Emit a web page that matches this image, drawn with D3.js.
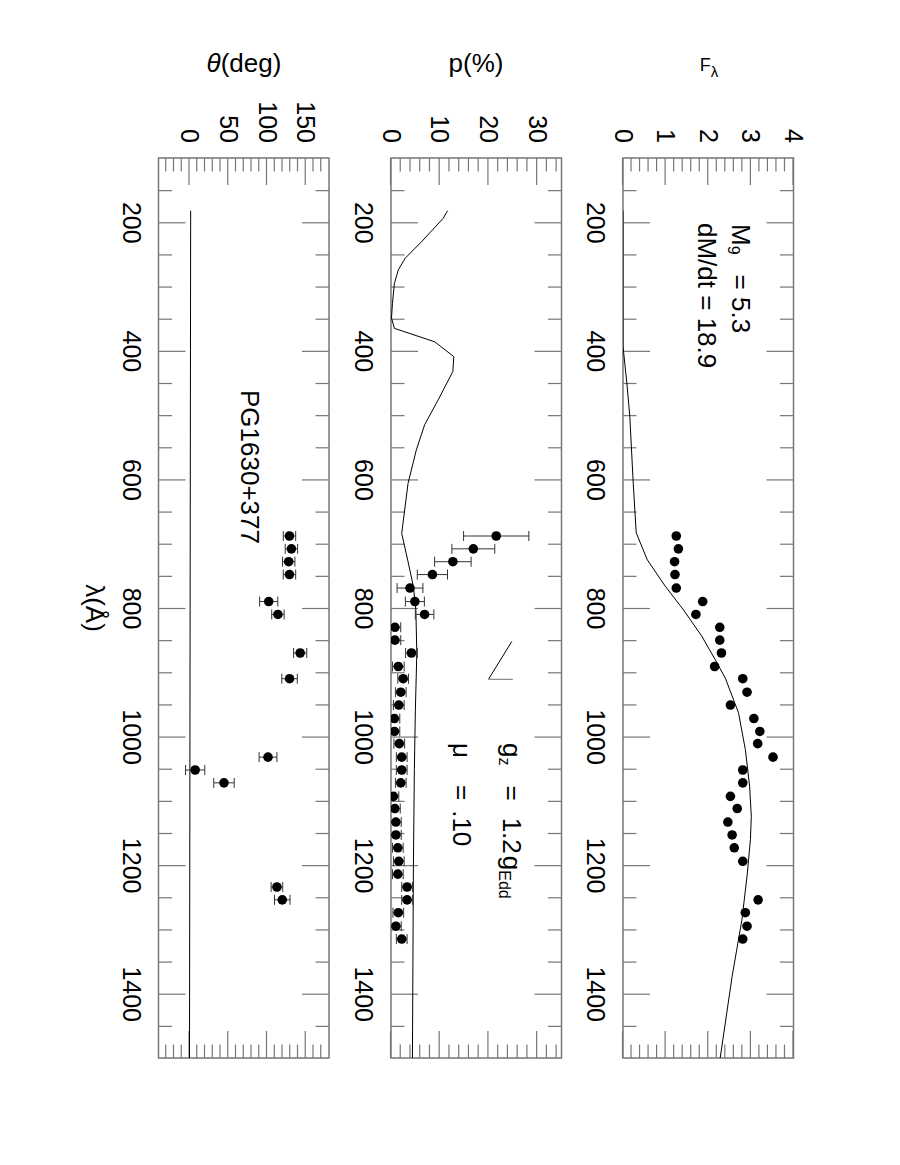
<!DOCTYPE html>
<html><head><meta charset="utf-8">
<script src="https://cdn.jsdelivr.net/npm/d3@7"></script>
<style>body{margin:0;background:#fff}</style>
</head><body>
<svg id="c" width="900" height="1165" xmlns="http://www.w3.org/2000/svg"></svg>
<script>
// ---------------- data ----------------
const lambdaDomain = [100, 1500];
const lambdaMajor = [200, 400, 600, 800, 1000, 1200, 1400];
const lambdaMinor = d3.range(150, 1500, 50).filter(v => v % 200 !== 0);

const fDomain = [0, 4];
const fMajor = [0, 1, 2, 3, 4];
const fMinor = d3.range(0.2, 4, 0.2).filter(v => Math.abs(v - Math.round(v)) > 1e-6);

const pDomain = [0, 35];
const pMajor = [0, 10, 20, 30];
const pMinor = d3.range(2, 35, 2).filter(v => v % 10 !== 0);

const tDomain = [-40, 180];
const tMajor = [0, 50, 100, 150];
const tMinor = d3.range(-30, 180, 10).filter(v => v % 50 !== 0);

// flux data points
const fLambda = [688,708,728,748,769,790,810,830,850,870,891,910,931,951,972,992,1011,1032,1052,1072,1093,1112,1133,1153,1173,1194,1254,1274,1295,1315];
const fValue  = [1.25,1.30,1.21,1.22,1.25,1.87,1.71,2.27,2.27,2.31,2.15,2.81,2.91,2.52,3.07,3.21,3.16,3.52,2.81,2.81,2.52,2.68,2.46,2.56,2.61,2.81,3.17,2.87,2.91,2.81];
// flux model
const fModelLambda = [182,393,450,502,606,683,725,766,803,844,880,909,963,1020,1077,1124,1160,1217,1285,1373,1500];
const fModelValue  = [0,0,0.09,0.16,0.24,0.31,0.57,0.99,1.42,1.85,2.16,2.40,2.71,2.87,2.97,3.01,2.99,2.91,2.79,2.56,2.28];

// polarization data points
const pLambda = [688,708,728,748,769,790,810,830,850,870,891,910,931,951,972,992,1011,1032,1052,1072,1093,1112,1133,1153,1173,1194,1214,1234,1254,1274,1295,1315];
const pValue  = [21.6,16.9,12.7,8.5,3.9,4.9,6.9,0.8,0.8,4.2,1.5,2.5,2.0,1.6,0.7,0.7,1.7,2.2,2.2,2.0,0.5,0.8,1.0,1.0,1.4,1.6,1.4,3.3,3.3,1.5,1.0,2.2];
const pError  = [6.7,4.4,3.75,3.1,2.65,1.95,1.9,1.2,1.2,1.2,1.2,1.1,1.1,1.1,1.1,1.1,1.1,1.1,1.1,1.1,1.1,1.1,1.1,1.1,1.1,1.1,1.1,1.1,1.1,1.1,1.1,1.1];
// polarization model
const pModelLambda = [182,194,230,256,274,295,326,349,365,386,409,432,476,515,554,606,684,728,767,803,870,960,1050,1200,1500];
const pModelValue  = [11.6,10.7,6.3,2.9,1.5,0.7,0.3,0.1,0.7,9.0,12.9,12.7,9.7,6.9,5.2,3.5,2.2,3.5,4.6,5.1,5.3,5.0,4.8,4.6,4.4];
// small angle mark in p panel
const markLambda = [852, 911, 911];
const markValue  = [24.8, 20.0, 25.0];

// position angle data points
const tLambda = [688,708,728,748,790,810,870,910,1032,1052,1072,1234,1254];
const tValue  = [129,131.5,128,129,102.2,114.1,142.8,129.1,101.3,7.3,44.5,112.8,119.7];
const tError  = [8,8,8,8,11.7,8,8.5,10,11.5,12.4,13.2,7.5,10];
// position angle model
const tModelLambda = [182, 1500];
const tModelValue  = [1.5, 0];

// ---------------- drawing ----------------
const FONT = "'Liberation Sans', Arial, Helvetica, sans-serif";
const GRAY = "#777";
const svg = d3.select("#c");
const defs = svg.append("defs");
// original (unrotated) frame, rotated 90deg clockwise onto the page
const g = svg.append("g").attr("transform", "translate(900,0) rotate(90)");

const x = d3.scaleLinear().domain(lambdaDomain).range([158, 1058]);
const PW = 170.5;
const MAJ = 27, MIN = 13.5;
const intFmt = d3.format("d");

function styleAxis(a) {
  a.select(".domain").remove();
  a.attr("font-size", 25).attr("font-family", FONT);
  a.selectAll("line").attr("stroke", GRAY).attr("stroke-width", 1.2);
  a.selectAll("text").attr("fill", "#000");
  return a;
}

function makePanel(key, screenLeft, domain, majors, minors) {
  const yb = 900 - screenLeft, yt = yb - PW;
  const y = d3.scaleLinear().domain(domain).range([yb, yt]);
  const p = g.append("g");
  const cid = "clip-" + key;
  defs.append("clipPath").attr("id", cid).append("rect")
    .attr("x", 158).attr("y", yt).attr("width", 900).attr("height", PW);

  styleAxis(p.append("g").attr("transform", `translate(0,${yb})`)
    .call(d3.axisBottom(x).tickValues(lambdaMajor).tickSize(-MAJ).tickPadding(18).tickFormat(intFmt)));
  styleAxis(p.append("g").attr("transform", `translate(0,${yb})`)
    .call(d3.axisBottom(x).tickValues(lambdaMinor).tickSize(-MIN).tickFormat("")));
  styleAxis(p.append("g").attr("transform", `translate(0,${yt})`)
    .call(d3.axisTop(x).tickValues(lambdaMajor).tickSize(-MAJ).tickFormat("")));
  styleAxis(p.append("g").attr("transform", `translate(0,${yt})`)
    .call(d3.axisTop(x).tickValues(lambdaMinor).tickSize(-MIN).tickFormat("")));
  styleAxis(p.append("g").attr("transform", `translate(158,0)`)
    .call(d3.axisLeft(y).tickValues(majors).tickSize(-MAJ).tickPadding(15).tickFormat(intFmt)));
  styleAxis(p.append("g").attr("transform", `translate(158,0)`)
    .call(d3.axisLeft(y).tickValues(minors).tickSize(-MIN).tickFormat("")));
  styleAxis(p.append("g").attr("transform", `translate(1058,0)`)
    .call(d3.axisRight(y).tickValues(majors).tickSize(-MAJ).tickFormat("")));
  styleAxis(p.append("g").attr("transform", `translate(1058,0)`)
    .call(d3.axisRight(y).tickValues(minors).tickSize(-MIN).tickFormat("")));

  p.append("rect").attr("x", 158).attr("y", yt).attr("width", 900).attr("height", PW)
    .attr("fill", "none").attr("stroke", GRAY).attr("stroke-width", 1.5);

  const content = p.append("g").attr("clip-path", `url(#${cid})`);
  return { y, content };
}

function drawLine(panel, xs, ys, color) {
  const pts = xs.map((d, i) => [d, ys[i]]);
  panel.content.append("path").datum(pts)
    .attr("fill", "none").attr("stroke", color || "#000").attr("stroke-width", 1)
    .attr("d", d3.line().x(d => x(d[0])).y(d => panel.y(d[1])));
}

function drawPoints(panel, xs, ys, errs) {
  const pts = xs.map((d, i) => ({ l: d, v: ys[i], e: errs ? errs[i] : 0 }));
  if (errs) {
    const cap = 5;
    panel.content.selectAll(null).data(pts).join("path")
      .attr("fill", "none").attr("stroke", "#333").attr("stroke-width", 1)
      .attr("d", d => {
        const cx = x(d.l), y0 = panel.y(d.v - d.e), y1 = panel.y(d.v + d.e);
        return `M${cx},${y0}L${cx},${y1}M${cx - cap},${y0}L${cx + cap},${y0}M${cx - cap},${y1}L${cx + cap},${y1}`;
      });
  }
  panel.content.selectAll(null).data(pts).join("circle")
    .attr("cx", d => x(d.l)).attr("cy", d => panel.y(d.v)).attr("r", 4.8).attr("fill", "#000");
}

const pf = makePanel("f", 623, fDomain, fMajor, fMinor);
const pp = makePanel("p", 391, pDomain, pMajor, pMinor);
const pt = makePanel("t", 158.5, tDomain, tMajor, tMinor);

drawLine(pf, fModelLambda, fModelValue);
drawPoints(pf, fLambda, fValue, null);

drawLine(pp, pModelLambda, pModelValue);
drawPoints(pp, pLambda, pValue, pError);
{
  const pts = markLambda.map((d, i) => [d, markValue[i]]);
  pp.content.append("path").datum(pts.slice(0, 2)).attr("fill", "none").attr("stroke", "#000").attr("stroke-width", 1)
    .attr("d", d3.line().x(d => x(d[0])).y(d => pp.y(d[1])));
  pp.content.append("path").datum(pts.slice(1, 3)).attr("fill", "none").attr("stroke", "#888").attr("stroke-width", 1.2)
    .attr("d", d3.line().x(d => x(d[0])).y(d => pp.y(d[1])));
}

drawLine(pt, tModelLambda, tModelValue);
drawPoints(pt, tLambda, tValue, tError);

// ---------------- annotations (in rotated frame) ----------------
const ann = g.append("g").attr("font-family", FONT).attr("font-size", 26).attr("fill", "#000");
{
  const t = ann.append("text").attr("x", 224).attr("y", 168);
  t.append("tspan").text("M");
  t.append("tspan").attr("font-size", 16).attr("dy", 4).text("9");
  t.append("tspan").attr("dy", -4).attr("dx", 20).text("= 5.3");
}
ann.append("text").attr("x", 223).attr("y", 202).text("dM/dt = 18.9");
{
  const t = ann.append("text").attr("x", 743).attr("y", 397);
  t.append("tspan").text("g");
  t.append("tspan").attr("font-size", 16).attr("dy", 4).text("z");
  t.append("tspan").attr("dy", -4).attr("dx", 20).text("=");
  t.append("tspan").attr("dx", 17).text("1.2");
  t.append("tspan").attr("dx", 2).text("g");
  t.append("tspan").attr("font-size", 16).attr("dy", 4).text("Edd");
}
{
  const t = ann.append("text").attr("x", 743).attr("y", 447);
  t.append("tspan").text("μ");
  t.append("tspan").attr("dx", 27).text("=");
  t.append("tspan").attr("dx", 10).text(".10");
}
ann.append("text").attr("x", 390).attr("y", 659).text("PG1630+377");
ann.append("text").attr("x", 608).attr("y", 814).attr("text-anchor", "middle").text("λ(Å)");

// ---------------- upright axis titles ----------------
const titles = svg.append("g").attr("font-family", FONT).attr("fill", "#000").attr("text-anchor", "middle");
{
  const t = titles.append("text").attr("x", 244).attr("y", 72).attr("font-size", 26);
  t.append("tspan").attr("font-style", "italic").text("θ");
  t.append("tspan").text("(deg)");
}
titles.append("text").attr("x", 476).attr("y", 72).attr("font-size", 26).text("p(%)");
{
  const t = titles.append("text").attr("x", 709).attr("y", 71).attr("font-size", 18);
  t.append("tspan").text("F");
  t.append("tspan").attr("font-size", 15).attr("dy", 6).text("λ");
}
</script>
</body></html>
